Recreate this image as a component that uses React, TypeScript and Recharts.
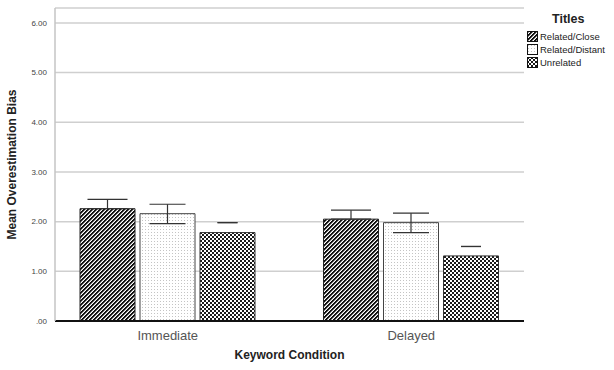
import React from 'react';
import { BarChart, Bar, XAxis, YAxis, CartesianGrid, ErrorBar, Label } from 'recharts';

const categories = ['Immediate', 'Delayed'];
const closeMeans = [2.26, 2.05];
const closeUpper = [0.19, 0.18];
const distantMeans = [2.16, 1.98];
const distantLower = [0.2, 0.2];
const distantUpper = [0.19, 0.19];
const unrelatedMeans = [1.78, 1.31];
const unrelatedCapOffset = [0.2, 0.19];
const yTicks = [0, 1, 2, 3, 4, 5, 6];

const seriesNames = ['Related/Close', 'Related/Distant', 'Unrelated'];
const patternIds = ['pClose', 'pDistant', 'pUnrel'];

const data = categories.map((c, i) => ({
  name: c,
  close: closeMeans[i],
  closeErr: [0, closeUpper[i]],
  distant: distantMeans[i],
  distantErr: [distantLower[i], distantUpper[i]],
  unrelated: unrelatedMeans[i],
  unrelatedErr: [-unrelatedCapOffset[i], unrelatedCapOffset[i]],
}));

const stripeShades = ['#111', '#111', '#9a9a9a', '#fff'];
const stripeCells: { x: number; y: number; c: string }[] = [];
for (let y = 0; y < 4; y++) {
  for (let x = 0; x < 4; x++) {
    stripeCells.push({ x, y, c: stripeShades[(x + y) % 4] });
  }
}

const Patterns = ({ prefix }: { prefix: string }) => (
  <defs>
    <pattern id={prefix + 'pClose'} width="4" height="4" patternUnits="userSpaceOnUse">
      {stripeCells.map((s, i) => (
        <rect key={i} x={s.x} y={s.y} width="1" height="1" fill={s.c} shapeRendering="crispEdges" />
      ))}
    </pattern>
    <pattern id={prefix + 'pDistant'} width="3" height="3" patternUnits="userSpaceOnUse">
      <rect width="3" height="3" fill="#fff" />
      <rect x="1" y="1" width="1" height="1" fill="#c4c4c4" />
    </pattern>
    <pattern id={prefix + 'pUnrel'} width="4" height="4" patternUnits="userSpaceOnUse">
      <rect width="4" height="4" fill="#fff" />
      <rect x="0" y="0" width="2" height="2" fill="#1a1a1a" />
      <rect x="2" y="2" width="2" height="2" fill="#1a1a1a" />
    </pattern>
  </defs>
);

const LegendBox = () => (
  <div
    style={{
      position: 'absolute',
      left: 527,
      top: 12,
      fontFamily: 'Liberation Sans, Arial, sans-serif',
      color: '#222',
    }}
  >
    <div style={{ fontWeight: 'bold', fontSize: 12.5, marginLeft: 25, marginBottom: 3, lineHeight: '15px' }}>Titles</div>
    {seriesNames.map((n, i) => (
      <div key={n} style={{ display: 'flex', alignItems: 'center', height: 13, fontSize: 9.5 }}>
        <svg width="11" height="11" style={{ marginRight: 2 }}>
          <Patterns prefix="lg" />
          <rect x="0.5" y="0.5" width="10" height="10" fill={`url(#lg${patternIds[i]})`} stroke="#111" strokeWidth="1" />
        </svg>
        <span>{n}</span>
      </div>
    ))}
  </div>
);

export default function App() {
  return (
    <div style={{ position: 'absolute', left: 0, top: 0, width: 614, height: 370, background: '#fff' }}>
      <BarChart
        width={614}
        height={370}
        data={data}
        margin={{ top: 8, right: 90, bottom: 0, left: 0 }}
        barSize={55}
        barGap={5}
        style={{ fontFamily: 'Liberation Sans, Arial, sans-serif' }}
      >
        <Patterns prefix="" />
        <CartesianGrid vertical={false} stroke="#cfcfcf" strokeWidth={1.5} />
        <XAxis
          dataKey="name"
          height={49}
          padding={{ left: -9, right: -9 }}
          axisLine={{ stroke: '#111', strokeWidth: 2 }}
          tickLine={false}
          tickSize={0}
          tickMargin={10}
          tick={{ fontSize: 13, fill: '#555' }}
        >
          <Label
            content={({ viewBox }: any) => (
              <text
                x={289.5}
                y={viewBox.y + 38}
                textAnchor="middle"
                fontWeight="bold"
                fontSize={12}
                fill="#222"
              >
                Keyword Condition
              </text>
            )}
          />
        </XAxis>
        <YAxis
          width={55}
          domain={[0, 6.3]}
          ticks={yTicks}
          tickFormatter={(v: number) => (v === 0 ? '.00' : v.toFixed(2))}
          axisLine={{ stroke: '#c4c4c4', strokeWidth: 1.5 }}
          tickLine={false}
          tickSize={0}
          tickMargin={8}
          tick={{ fontSize: 8, fill: '#444' }}
        >
          <Label
            content={({ viewBox }: any) => (
              <text
                x={16}
                y={viewBox.y + viewBox.height / 2}
                transform={`rotate(-90, 16, ${viewBox.y + viewBox.height / 2})`}
                textAnchor="middle"
                fontWeight="bold"
                fontSize={12}
                fill="#222"
              >
                Mean Overestimation Bias
              </text>
            )}
          />
        </YAxis>
        <Bar dataKey="close" name={seriesNames[0]} fill="url(#pClose)" stroke="#222" strokeWidth={1} isAnimationActive={false}>
          <ErrorBar dataKey="closeErr" width={20} stroke="#333" strokeWidth={1.2} isAnimationActive={false} />
        </Bar>
        <Bar dataKey="distant" name={seriesNames[1]} fill="url(#pDistant)" stroke="#444" strokeWidth={1} isAnimationActive={false}>
          <ErrorBar dataKey="distantErr" width={18} stroke="#333" strokeWidth={1.2} isAnimationActive={false} />
        </Bar>
        <Bar dataKey="unrelated" name={seriesNames[2]} fill="url(#pUnrel)" stroke="#333" strokeWidth={1} isAnimationActive={false}>
          <ErrorBar dataKey="unrelatedErr" width={10} stroke="#333" strokeWidth={1.2} isAnimationActive={false} />
        </Bar>
      </BarChart>
      <LegendBox />
    </div>
  );
}
